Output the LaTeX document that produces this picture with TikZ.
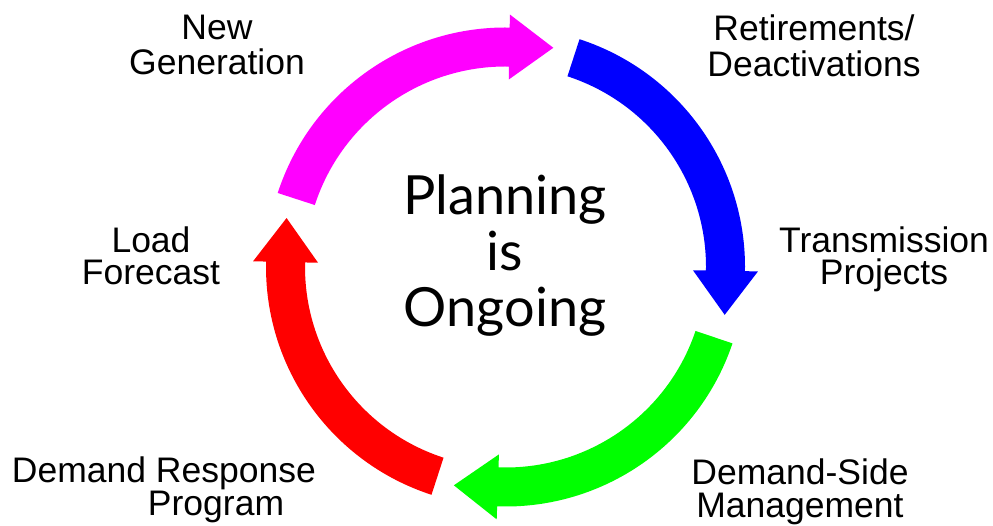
\documentclass[tikz,border=0pt]{standalone}
\usepackage{fontspec}
\setmainfont{Liberation Sans}
\newfontfamily\centerfont{Lato}
\usetikzlibrary{calc}
\definecolor{arrMagenta}{RGB}{255,0,255}
\definecolor{arrBlue}{RGB}{0,0,255}
\definecolor{arrGreen}{RGB}{0,255,0}
\definecolor{arrRed}{RGB}{255,0,0}
% radii: outer shaft, inner shaft, outer barb, inner barb, mid, head length
\def\Ro{239.5pt}\def\Ri{200.5pt}\def\Rbo{252.5pt}\def\Rbi{187.5pt}\def\Rm{220pt}\def\Hl{44pt}
\newcommand\cycarrow[3]{%
  \fill[#1] ($(C)+(#3:\Ro)$) arc[start angle=#3, end angle=#2, radius=\Ro]
    -- ($(C)+(#2:\Rbo)$) -- ($(C)+(#2:\Rm)+(#2-90:\Hl)$) -- ($(C)+(#2:\Rbi)$)
    -- ($(C)+(#2:\Ri)$) arc[start angle=#2, end angle=#3, radius=\Ri] -- cycle;}
\begin{document}
\begin{tikzpicture}[x=1pt,y=1pt,
  lbl/.style={inner sep=0pt, outer sep=0pt, align=center, anchor=north},
  center text/.style={inner sep=0pt, outer sep=0pt, align=center, anchor=north,
    font=\centerfont\fontsize{54}{56}\selectfont}]
\useasboundingbox (0,0) rectangle (993,-526);
\coordinate (C) at (505.5,-267);
\cycarrow{arrMagenta}{89}{162}
\cycarrow{arrBlue}{-1}{72}
\cycarrow{arrGreen}{-92}{-18.6}
\cycarrow{arrRed}{178.7}{252}
\node[center text] (plan) at (505,-175) {Planning\\is\\Ongoing};
\node[lbl, font=\fontsize{35.5}{35}\selectfont] (newgen) at (217,-15) {New\\Generation};
\node[lbl, font=\fontsize{35.5}{36}\selectfont] (retire) at (814,-15) {Retirements/\\Deactivations};
\node[lbl, font=\fontsize{35.5}{32}\selectfont] (trans) at (884,-227) {Transmission\\Projects};
\node[lbl, font=\fontsize{35.5}{33}\selectfont] (dsm) at (800,-459) {Demand-Side\\Management};
\node[lbl, anchor=north west, align=left, font=\fontsize{35.5}{31}\selectfont] (drp) at (12,-457) {Demand Response\\\hspace*{136pt}Program};
\node[lbl, font=\fontsize{35.5}{32}\selectfont] (load) at (151,-227) {Load\\Forecast};
\end{tikzpicture}
\end{document}
